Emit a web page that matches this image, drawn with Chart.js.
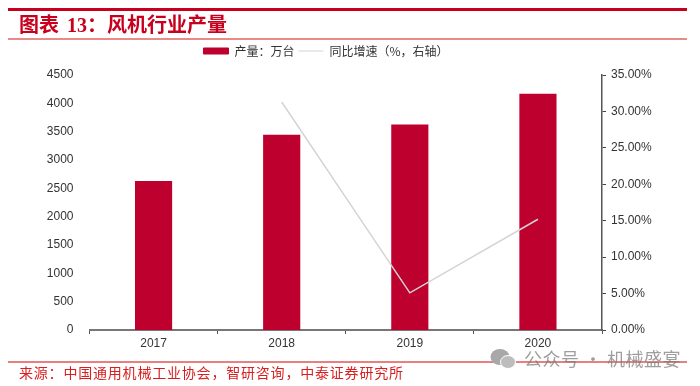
<!DOCTYPE html>
<html lang="zh">
<head>
<meta charset="UTF-8">
<script src="https://cdn.jsdelivr.net/npm/chart.js"></script>
<style>
    html, body { margin: 0; padding: 0; background: #fff; }
    #page { position: relative; width: 700px; height: 386px; overflow: hidden; font-family: "Noto Sans CJK SC", sans-serif; }
    #myChart { position: absolute; left: 0; top: 0; }
    .rule { position: absolute; left: 8px; width: 679px; }
    #title { position: absolute; left: 19px; top: 10px; font-size: 20px; font-weight: 700; line-height: 28px; color: #c8001e; white-space: pre; }
    #title span { margin-left: 8px; font-family: "Liberation Serif", serif; }
    #source { position: absolute; left: 19px; top: 362px; font-size: 14px; line-height: 21px; letter-spacing: 0.8px; color: #d81e1e; white-space: pre; }
    #mark { position: absolute; left: 524px; top: 345px; font-size: 18px; line-height: 26px; letter-spacing: 0.5px; color: rgba(120,120,120,0.72); white-space: pre; }
    #icon { position: absolute; left: 490px; top: 349px; }
</style>
</head>
<body>
<div id="page">
    <canvas id="myChart" width="700" height="386"></canvas>
    <div class="rule" style="top:8px;height:3px;background:#c8001e"></div>
    <div id="title">图表<span>13</span>：风机行业产量</div>
    <div class="rule" style="top:38px;height:2px;background:#e88a8a"></div>
    <div class="rule" style="top:361px;height:2px;background:#e88080"></div>
    <div id="source">来源：中国通用机械工业协会，智研咨询，中泰证券研究所</div>
    <svg id="icon" width="26" height="20" viewBox="0 0 26 20">
        <ellipse cx="10" cy="8" rx="9.5" ry="8" fill="#a8a8a8"/>
        <ellipse cx="18" cy="13" rx="7.5" ry="6.5" fill="#bcbcbc" stroke="#fff" stroke-width="1"/>
    </svg>
    <div id="mark">公众号 · 机械盛宴</div>
</div>
<script>
    var categories = ['2017', '2018', '2019', '2020'];
    var output = [2630, 3445, 3625, 4170];
    var growth = [null, 31.3, 5.1, 15.2];
    var outputName = '产量：万台';
    var growthName = '同比增速（%，右轴）';

    var tickFont = { family: '"Liberation Sans", Arial, sans-serif', size: 12 };

    // legend sits left of centre in the reference and leaves a gap above the plot
    var legendPlace = {
        id: 'legendPlace',
        beforeInit: function (chart) {
            var fit = chart.legend.fit;
            chart.legend.fit = function () {
                fit.call(this);
                this.height += 8;
            };
        },
        afterLayout: function (chart) {
            chart.legend.right = 652;
        }
    };

    var ctx = document.getElementById('myChart').getContext('2d');
    var myChart = new Chart(ctx, {
        plugins: [legendPlace],
        data: {
            labels: categories,
            datasets: [
                { type: 'bar', label: outputName, data: output, yAxisID: 'y', backgroundColor: '#bd002e', barPercentage: 0.29, categoryPercentage: 1, order: 2 },
                { type: 'line', label: growthName, data: growth, yAxisID: 'y1', borderColor: '#d4d4d4', borderWidth: 1.5, pointRadius: 0, tension: 0, order: 1 }
            ]
        },
        options: {
            responsive: false,
            animation: false,
            layout: { padding: { top: 41, right: 0, left: 0, bottom: 0 } },
            plugins: {
                tooltip: { enabled: false },
                legend: {
                    position: 'top',
                    labels: {
                        usePointStyle: true,
                        pointStyleWidth: 25,
                        boxHeight: 6,
                        padding: 4,
                        color: '#333',
                        font: { family: '"Noto Sans CJK SC", sans-serif', size: 12 },
                        generateLabels: function (chart) {
                            return chart.data.datasets.map(function (d, i) {
                                return {
                                    text: d.label,
                                    datasetIndex: i,
                                    fillStyle: d.type === 'bar' ? d.backgroundColor : 'transparent',
                                    strokeStyle: d.type === 'bar' ? d.backgroundColor : d.borderColor,
                                    lineWidth: 1,
                                    pointStyle: d.type === 'bar' ? 'rect' : 'line',
                                    fontColor: '#333'
                                };
                            });
                        }
                    }
                }
            },
            scales: {
                x: {
                    offset: true,
                    grid: { offset: true, drawOnChartArea: false, drawTicks: true, tickLength: 4, tickColor: '#555', tickWidth: 1 },
                    border: { color: '#777', width: 2 },
                    ticks: { color: '#333', font: tickFont, padding: 2, maxRotation: 0 },
                    afterFit: function (scale) { scale.height = 56; }
                },
                y: {
                    position: 'left',
                    min: 0,
                    max: 4500,
                    grid: { display: false },
                    border: { display: false },
                    ticks: {
                        stepSize: 500,
                        color: '#333',
                        font: tickFont,
                        padding: 8,
                        callback: function (v) { return String(v); }
                    },
                    afterFit: function (scale) { scale.width = 89.5; }
                },
                y1: {
                    position: 'right',
                    min: 0,
                    max: 35,
                    grid: { drawOnChartArea: false, tickLength: 4, tickColor: '#444', tickWidth: 1 },
                    border: { color: '#555', width: 1.5 },
                    ticks: {
                        stepSize: 5,
                        color: '#333',
                        font: tickFont,
                        padding: 5,
                        callback: function (v) { return v.toFixed(2) + '%'; }
                    },
                    afterFit: function (scale) { scale.width = 98; }
                }
            }
        }
    });
</script>
</body>
</html>
